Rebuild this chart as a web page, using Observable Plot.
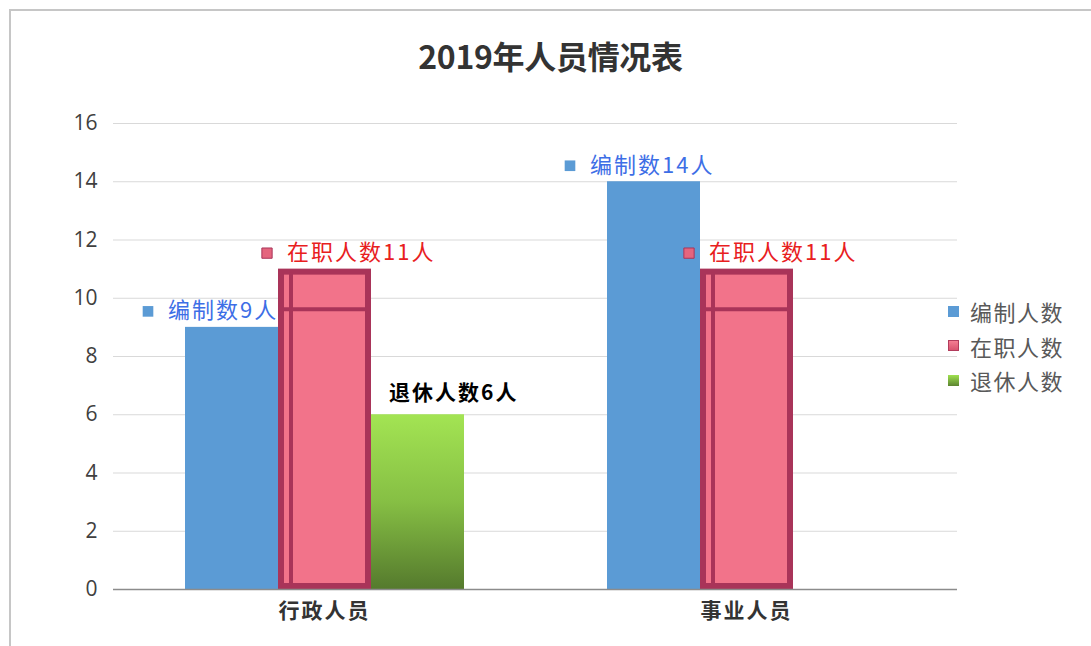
<!DOCTYPE html>
<html>
<head>
<meta charset="utf-8">
<script src="https://cdn.jsdelivr.net/npm/d3@7"></script>
<script src="https://cdn.jsdelivr.net/npm/@observablehq/plot@0.6"></script>
<style>
  body { margin: 0; background: #fff; font-family: "Noto Sans CJK SC", "Noto Sans", sans-serif; }
  #wrap { position: relative; width: 1091px; height: 646px; overflow: hidden; background: #fff; }
  #frame { position: absolute; left: 9px; top: 9px; width: 1200px; height: 800px;
           border-left: 2px solid #c6c6c6; border-top: 2px solid #c6c6c6; }
  #title { position: absolute; left: 10px; top: 0; width: 1081px; height: 110px; line-height: 110px;
           text-align: center; font-size: 32px; font-weight: bold; color: #333; letter-spacing: -0.3px; }
  #chart { position: absolute; left: 0; top: 100px; }
  #legend { position: absolute; left: 948px; top: 294px; }
  .item { display: flex; align-items: center; height: 34.5px; font-size: 22px; color: #595959; letter-spacing: 1.5px; }
  .sw { width: 11px; height: 11px; margin-right: 11px; box-sizing: border-box; }
  #chart g[aria-label="text"] text { letter-spacing: 2px; }
  #chart g[aria-label="fx-axis tick label"] text { letter-spacing: 2px; }
</style>
</head>
<body>
<div id="wrap">
  <div id="frame"></div>
  <div id="title"></div>
  <div id="chart"></div>
  <div id="legend"></div>
</div>
<script>
const titleText = "2019年人员情况表";
const categories = ["行政人员", "事业人员"];
const series = ["编制人数", "在职人数", "退休人数"];
const labelNames = ["编制数", "在职人数", "退休人数"];
const bianzhi = [9, 14];
const zaizhi = [11, 11];
const tuixiu = [6, null];
const yTicks = [0, 2, 4, 6, 8, 10, 12, 14, 16];

const seriesValues = [bianzhi, zaizhi, tuixiu];
const rows = [];
categories.forEach((c, i) => {
  series.forEach((s, j) => {
    const v = seriesValues[j][i];
    if (v != null) rows.push({category: c, series: s, value: v, label: labelNames[j] + v + "人"});
  });
});
const blue = rows.filter(d => d.series === series[0]);
const red = rows.filter(d => d.series === series[1]);
const green = rows.filter(d => d.series === series[2]);

document.getElementById("title").textContent = titleText;

const C = {blue: "#5b9bd5", pink: "#f2738a", crimson: "#a93459", blueText: "#3d6ee6", redText: "#e8201e"};
const base = {fx: "category", x: "series", y: "value"};

const plot = Plot.plot({
  width: 1091,
  height: 546,
  marginTop: 23,
  marginBottom: 57,
  marginLeft: 113,
  marginRight: 134,
  style: {fontFamily: "'Noto Sans CJK SC', 'Noto Sans', sans-serif", background: "transparent"},
  fx: {domain: categories, padding: 0},
  x: {domain: series, paddingInner: 0, paddingOuter: 0.762, axis: null},
  y: {domain: [0, 16], axis: null},
  marks: [
    Plot.gridY(yTicks, {stroke: "#d9d9d9", strokeOpacity: 1, strokeWidth: 1.2}),
    Plot.axisY(yTicks, {anchor: "left", tickSize: 0, tickPadding: 16, fontSize: 21, color: "#404040",
                        fontFamily: "'Open Sans', sans-serif", label: null}),
    Plot.axisFx({anchor: "bottom", tickSize: 0, tickPadding: 14, fontSize: 21, fontWeight: "bold",
                 color: "#333", label: null}),
    Plot.barY(blue, {...base, fill: C.blue}),
    Plot.barY(red, {...base, fill: C.pink, stroke: C.crimson, strokeWidth: 6, inset: 3}),
    Plot.barY(red, {...base, fill: C.crimson, insetLeft: 11, insetRight: 78, insetTop: 4, insetBottom: 4}),
    Plot.tickY(red, {...base, dy: 40, stroke: C.crimson, strokeWidth: 4, inset: 5}),
    Plot.barY(green, {...base, fill: "url(#gGreen)"}),
    Plot.ruleY([0], {stroke: "#8c8c8c", strokeWidth: 1.6}),
    Plot.dot(blue, {...base, symbol: "square", r: 6, fill: C.blue, dx: -84, dy: -16}),
    Plot.text(blue, {...base, text: "label", textAnchor: "start", dx: -64, dy: -16, fill: C.blueText, fontSize: 22}),
    Plot.dot(red, {...base, symbol: "square", r: 5.8, fill: "#e4657e", stroke: C.crimson, strokeWidth: 1, dx: -58, dy: -16}),
    Plot.text(red, {...base, text: "label", textAnchor: "start", dx: -38, dy: -16, fill: C.redText, fontSize: 22}),
    Plot.text(green, {...base, text: "label", textAnchor: "start", dx: -29, dy: -21, fill: "#000", fontSize: 21, fontWeight: "bold"})
  ]
});
plot.insertAdjacentHTML("afterbegin",
  `<defs><linearGradient id="gGreen" x1="0" y1="0" x2="0" y2="1">
     <stop offset="0" stop-color="#a3e453"/><stop offset="0.5" stop-color="#86bf44"/><stop offset="1" stop-color="#557a2d"/>
   </linearGradient></defs>`);
document.getElementById("chart").appendChild(plot);

const swatches = [
  `background:${C.blue}`,
  `background:linear-gradient(#f47d92,#d9546f);border:1px solid #b23c5c`,
  `background:linear-gradient(#9fe14f,#5c8431)`
];
const legend = document.getElementById("legend");
series.forEach((s, i) => {
  const it = document.createElement("div");
  it.className = "item";
  it.innerHTML = `<span class="sw" style="${swatches[i]}"></span><span>${s}</span>`;
  legend.appendChild(it);
});
</script>
</body>
</html>
